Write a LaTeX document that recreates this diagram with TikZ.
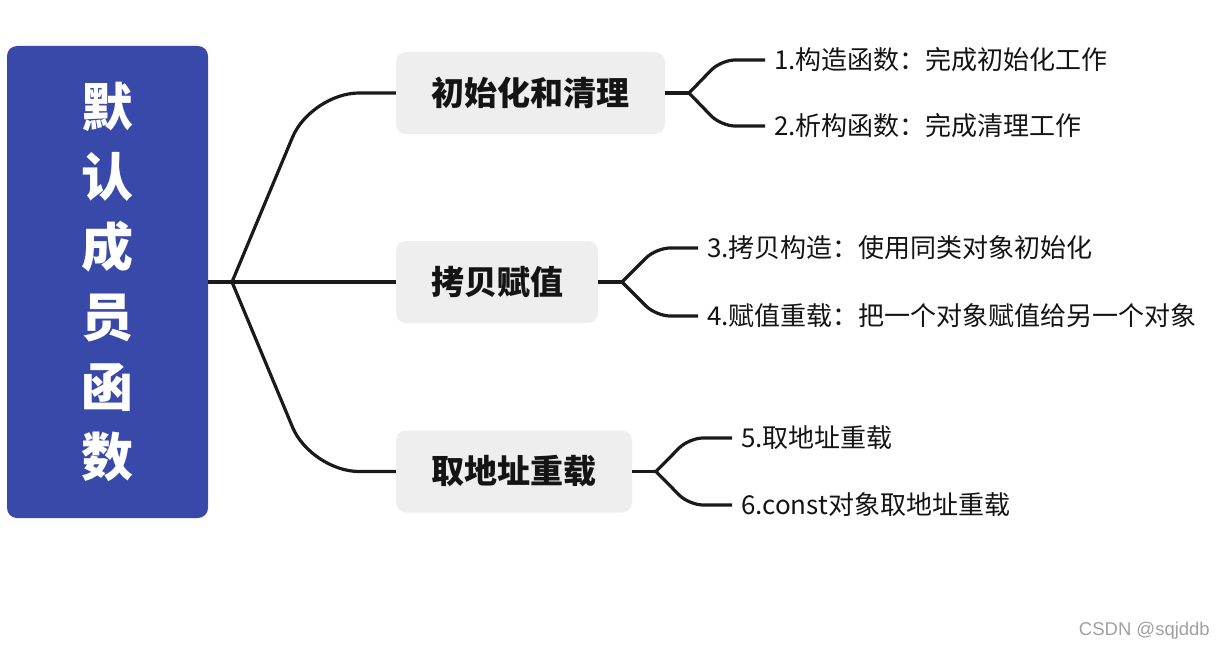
\documentclass[tikz,border=0pt]{standalone}
\usepackage{fontspec}
\setmainfont{Noto Sans CJK SC}
\newfontfamily\wmfont{Liberation Sans}
\definecolor{rootblue}{RGB}{57,73,169}
\definecolor{topicgray}{RGB}{238,238,238}
\definecolor{linecolor}{RGB}{26,26,26}
\definecolor{leafblack}{RGB}{20,20,20}
\definecolor{wmgray}{RGB}{160,160,160}
\begin{document}
\begin{tikzpicture}[x=1pt,y=-1pt,
  rootbox/.style={fill=rootblue, rounded corners=10pt, minimum width=201pt, minimum height=472pt, inner sep=0pt, text=white, font=\bfseries\fontsize{52}{70}\selectfont, align=center},
  topic/.style={fill=topicgray, rounded corners=10pt, inner sep=0pt, font=\bfseries\fontsize{33}{40}\selectfont, minimum height=82pt, text=leafblack},
  leaf/.style={anchor=west, inner xsep=9pt, inner ysep=0pt, font=\fontsize{26}{30}\selectfont, text=leafblack},
  conn/.style={draw=linecolor, line width=3.2pt},
]
\useasboundingbox (0,0) rectangle (1224,650);

\node[rootbox] (root) at (107.5,282) {默\\认\\成\\员\\函\\数};

\node[topic, minimum width=269pt] (b1) at (530.5,93) {初始化和清理};
\node[topic, minimum width=202pt] (b2) at (497,282) {拷贝赋值};
\node[topic, minimum width=236pt] (b3) at (514,471.5) {取地址重载};

\node[leaf] (l1) at (765,60) {1.构造函数：完成初始化工作};
\node[leaf] (l2) at (765,126) {2.析构函数：完成清理工作};
\node[leaf] (l3) at (698,248) {3.拷贝构造：使用同类对象初始化};
\node[leaf] (l4) at (698,316) {4.赋值重载：把一个对象赋值给另一个对象};
\node[leaf] (l5) at (732,438) {5.取地址重载};
\node[leaf] (l6) at (732,505) {6.const对象取地址重载};

\coordinate (j0) at (232,282);
\coordinate (c1) at (311,93);
\coordinate (c3) at (311,471.5);
\draw[conn] (root.east) -- (j0) -- (b2.west);
\draw[conn, rounded corners=48pt] (j0) -- (c1) -- (b1.west);
\draw[conn, rounded corners=48pt] (j0) -- (c3) -- (b3.west);

\coordinate (j1) at (689,93);
\coordinate (c11) at (721,60);
\coordinate (c12) at (721,126);
\draw[conn] (b1.east) -- (j1);
\draw[conn, rounded corners=14pt] (j1) -- (c11) -- (l1.west);
\draw[conn, rounded corners=14pt] (j1) -- (c12) -- (l2.west);

\coordinate (j2) at (622,282);
\coordinate (c21) at (656,248);
\coordinate (c22) at (656,316);
\draw[conn] (b2.east) -- (j2);
\draw[conn, rounded corners=14pt] (j2) -- (c21) -- (l3.west);
\draw[conn, rounded corners=14pt] (j2) -- (c22) -- (l4.west);

\coordinate (j3) at (656,471.5);
\coordinate (c31) at (689,438);
\coordinate (c32) at (689,505);
\draw[conn] (b3.east) -- (j3);
\draw[conn, rounded corners=14pt] (j3) -- (c31) -- (l5.west);
\draw[conn, rounded corners=14pt] (j3) -- (c32) -- (l6.west);

\node[font=\wmfont\fontsize{18.5}{22}\selectfont, text=wmgray, anchor=east, inner sep=0pt] (wm) at (1210,631) {CSDN @sqjddb};
\end{tikzpicture}
\end{document}
